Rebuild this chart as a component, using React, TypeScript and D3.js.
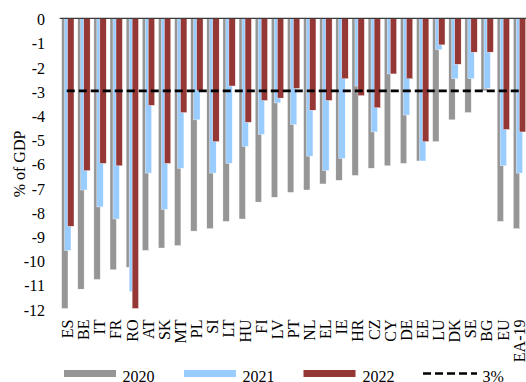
import React from "react";
import * as d3 from "d3";

const categories = ["ES","BE","IT","FR","RO","AT","SK","MT","PL","SI","LT","HU","FI","LV","PT","NL","EL","IE","HR","CZ","CY","DE","EE","LU","DK","SE","BG","EU","EA-19"];
const v2020 = [-12.0,-11.2,-10.8,-10.4,-10.3,-9.6,-9.5,-9.4,-8.8,-8.7,-8.4,-8.3,-7.6,-7.4,-7.2,-7.1,-6.85,-6.7,-6.5,-6.2,-6.1,-6.0,-5.9,-5.1,-4.2,-3.9,-3.0,-8.4,-8.7];
const v2021 = [-9.6,-7.1,-7.8,-8.3,-11.3,-6.4,-7.9,-6.2,-4.2,-6.4,-6.0,-5.3,-4.8,-3.5,-4.4,-5.7,-6.3,-5.8,-2.8,-4.7,-2.3,-4.0,-5.9,-1.3,-2.5,-2.5,-2.9,-6.1,-6.4];
const v2022 = [-8.6,-6.3,-6.0,-6.1,-12.0,-3.6,-6.0,-3.9,-3.0,-5.1,-2.8,-4.3,-3.4,-3.3,-2.9,-3.8,-3.4,-2.5,-3.2,-3.7,-2.3,-2.5,-5.1,-1.1,-1.9,-1.4,-1.4,-4.6,-4.7];
const seriesNames = ["2020","2021","2022"];
const refLine = -3;
const refName = "3%";
const yTicks = [0,-1,-2,-3,-4,-5,-6,-7,-8,-9,-10,-11,-12];
const yTitle = "% of GDP";

const colors = ["#969696", "#99ccff", "#953735"];
const font = "'Liberation Serif', 'Times New Roman', serif";

export default function App() {
  const W = 526, H = 382;
  const x = d3.scaleBand<string>().domain(categories).range([59.7, 527.5]).paddingInner(0).paddingOuter(0);
  const y = d3.scaleLinear().domain([0, -12]).range([18.3, 308.5]);
  const series = [v2020, v2021, v2022];
  const barW = 6.4, barStep = 3.0, pad = 1.9;
  const lineX1 = x(categories[0])! + x.bandwidth() / 2 - 1;
  const lineX2 = x(categories[categories.length - 1])! + x.bandwidth() / 2 + 2;

  const legendItems = [
    { x: 64, tx: 122.5, label: seriesNames[0], color: colors[0] },
    { x: 184, tx: 242.5, label: seriesNames[1], color: colors[1] },
    { x: 303.5, tx: 362.5, label: seriesNames[2], color: colors[2] },
  ];
  const legY = 373.5;

  return (
    <svg width={W} height={H} style={{ position: "fixed", left: 0, top: 0, background: "#fff" }} fontFamily={font}>
      {series.map((vals, si) => (
        <g key={si}>
          {categories.map((c, i) => {
            const x0 = x(c)! + pad + si * barStep;
            const y0 = y(0), y1 = y(vals[i]);
            return (
              <rect key={c} x={x0} y={Math.min(y0, y1)} width={barW} height={Math.abs(y1 - y0)}
                fill={colors[si]} stroke="#ffffff" strokeWidth={0.4} />
            );
          })}
        </g>
      ))}
      <line x1={59.7} x2={W} y1={y(0)} y2={y(0)} stroke="#3a3a3a" strokeWidth={1.2} />
      <line x1={lineX1} x2={lineX2} y1={y(refLine)} y2={y(refLine)} stroke="#000" strokeWidth={2.6} strokeDasharray="8,4" />
      {yTicks.map(t => (
        <text key={t} x={45} y={y(t) + 7} textAnchor="end" fontSize={16} fill="#000">{t}</text>
      ))}
      <text transform={`translate(25,164) rotate(-90)`} textAnchor="middle" fontSize={16} fill="#000">{yTitle}</text>
      {categories.map(c => (
        <text key={c} transform={`translate(${x(c)! + x.bandwidth() / 2 + 5.3},319.5) rotate(-90)`} textAnchor="end" fontSize={16} fill="#000">{c}</text>
      ))}
      {legendItems.map(it => (
        <g key={it.label}>
          <rect x={it.x} y={legY - 3.5} width={52} height={7} fill={it.color} />
          <text x={it.tx} y={legY + 8} fontSize={16} fill="#000">{it.label}</text>
        </g>
      ))}
      <line x1={423} x2={477} y1={legY} y2={legY} stroke="#000" strokeWidth={2.6} strokeDasharray="8,4" />
      <text x={482.5} y={legY + 8} fontSize={16} fill="#000">{refName}</text>
    </svg>
  );
}
